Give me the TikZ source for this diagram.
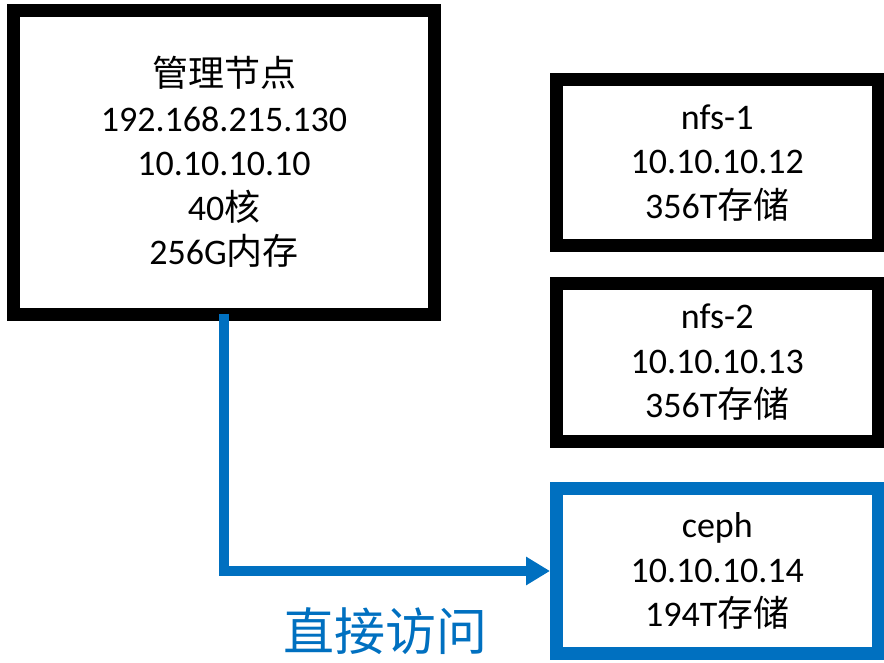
\documentclass[tikz,border=0pt]{standalone}
\usepackage{fontspec}
\setmainfont{Carlito}
\newfontfamily\cjk{Noto Sans CJK SC}
\usetikzlibrary{arrows.meta}
\definecolor{linkblue}{HTML}{0070C0}
\tikzset{
  box/.style={draw=black, line width=13pt, fill=white, rectangle, align=center,
    inner sep=0pt, font=\fontsize{36}{44.5}\selectfont},
  link/.style={draw=linkblue, line width=10pt, -{Triangle[length=24pt,width=27pt]}},
}
\begin{document}
\begin{tikzpicture}[x=1pt,y=-1pt]
\useasboundingbox (0,0) rectangle (884,663);
\node[box, minimum width=421pt, minimum height=303.5pt] (main) at (224,162.25)
  {{\cjk 管理节点}\\192.168.215.130\\10.10.10.10\\40{\cjk 核}\\256G{\cjk 内存}};
\node[box, minimum width=321.5pt, minimum height=165.5pt] (nfs1) at (717.25,162.75)
  {nfs-1\\10.10.10.12\\356T{\cjk 存储}};
\node[box, minimum width=321.5pt, minimum height=157.5pt] (nfs2) at (717.25,362.25)
  {nfs-2\\10.10.10.13\\356T{\cjk 存储}};
\node[box, draw=linkblue, minimum width=321.5pt, minimum height=165pt] (ceph) at (717.25,571)
  {ceph\\10.10.10.14\\194T{\cjk 存储}};
\draw[link] ([yshift=7pt]main.south) |- (ceph.west);
\node[text=linkblue, font=\cjk\fontsize{51}{60}\selectfont, inner sep=0pt] (lbl) at (385,631) {直接访问};
\end{tikzpicture}
\end{document}
